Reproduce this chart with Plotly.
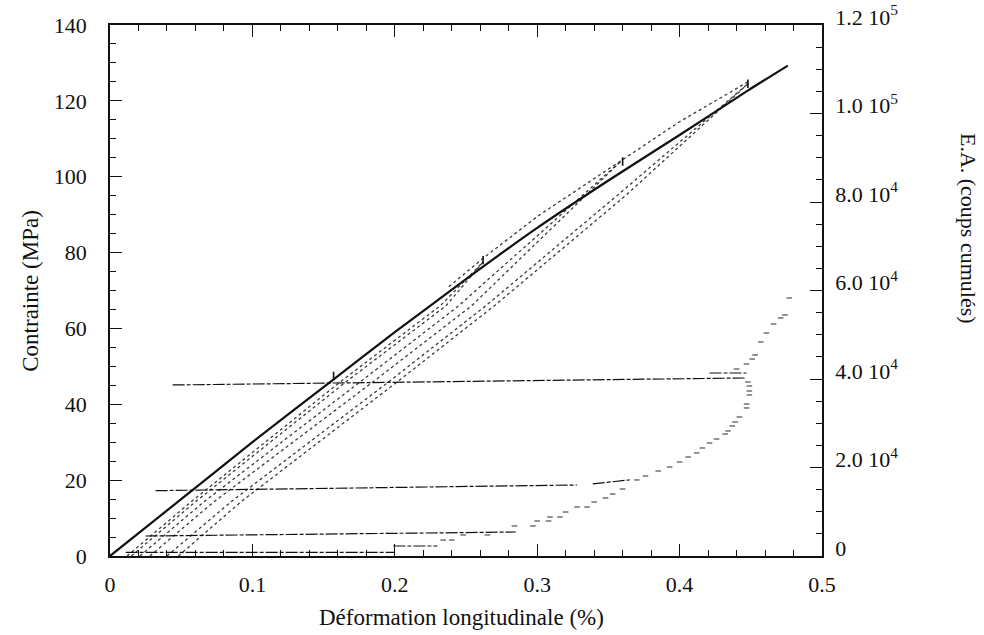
import plotly.graph_objects as go

# ---- stress / strain data (strain in %, stress in MPa) ----
env_strain = [0, 0.05, 0.10, 0.155, 0.20, 0.25, 0.30, 0.35, 0.40, 0.447, 0.476]
env_stress = [0, 15, 30, 46, 59, 73, 86.5, 99, 111, 122.5, 129.3]

# reloading path running just above the monotonic curve
reload_strain = [0.238, 0.262, 0.30, 0.36, 0.40, 0.448]
reload_stress = [71, 78.5, 89.5, 104.5, 114.5, 125]

# peaks of the successive cycles
peak_strain = [0.157, 0.262, 0.360, 0.448]
peak_stress = [47.5, 78.0, 104.0, 124.5]

# unloading / reloading branches of the cycles
loop_stress_a = [0, 14.3, 46, 66, 77.5]
loop_a1_strain = [0.012, 0.057, 0.162, 0.232, 0.262]
loop_a2_strain = [0.015, 0.060, 0.166, 0.236, 0.262]

loop_stress_b = [0, 14.3, 46, 66, 104.5]
loop_b1_strain = [0.021, 0.066, 0.176, 0.245, 0.36]
loop_b2_strain = [0.028, 0.073, 0.185, 0.254, 0.36]

loop_stress_c = [0, 14.3, 46, 66, 95, 124.5]
loop_c1_strain = [0.040, 0.085, 0.196, 0.264, 0.356, 0.448]
loop_c2_strain = [0.048, 0.092, 0.202, 0.270, 0.362, 0.448]

# ---- acoustic emission (cumulated counts) ----
# plateaus recorded while the strain moves back and forth at constant count
ea_plateau_strain = [[0.011, 0.200], [0.199, 0.230], [0.025, 0.285],
                     [0.032, 0.328], [0.339, 0.365], [0.044, 0.447], [0.421, 0.447]]
ea_plateau_counts = [[800, 800], [2260, 2260], [4520, 5420],
                     [14760, 16050], [16300, 17200], [38650, 40230], [41360, 41360]]

ea_strain = [0.234, 0.240, 0.248, 0.265, 0.284, 0.297, 0.300, 0.308, 0.309, 0.316,
             0.320, 0.328, 0.335, 0.340, 0.348, 0.353, 0.360, 0.370, 0.376, 0.385,
             0.393, 0.400, 0.406, 0.412, 0.416, 0.421, 0.426, 0.432, 0.434, 0.437,
             0.439, 0.442, 0.447, 0.447, 0.449, 0.449, 0.449, 0.448,
             0.440, 0.447, 0.451, 0.453, 0.457, 0.461, 0.466, 0.471, 0.474, 0.477]
ea_counts = [3600, 3600, 4750, 4750, 6780, 6780, 7910, 7910, 8810, 8810,
             9940, 11070, 11070, 12200, 13110, 14010, 15140, 17180, 18080, 19210,
             20110, 21240, 22370, 23280, 24410, 25540, 26440, 27570, 28250, 29380,
             30280, 31410, 33450, 34350, 36390, 37290, 38420, 39320,
             42260, 43390, 44520, 45430, 48360, 50400, 52430, 53790, 54470, 58310]

x_tickvals = [0, 0.1, 0.2, 0.3, 0.4, 0.5]
x_ticktext = ["0", "0.1", "0.2", "0.3", "0.4", "0.5"]
y_tickvals = [0, 20, 40, 60, 80, 100, 120, 140]
ea_tickvals = [0, 20000, 40000, 60000, 80000, 100000, 120000]
ea_ticktext = ["0", "2.0 10<sup>4</sup>", "4.0 10<sup>4</sup>", "6.0 10<sup>4</sup>",
               "8.0 10<sup>4</sup>", "1.0 10<sup>5</sup>", "1.2 10<sup>5</sup>"]

FONT = "Liberation Serif"
INK = "#111111"

fig = go.Figure()

dotted = dict(color="#3a3a3a", width=1.3, dash="dot")
for xs, ys in [(loop_a1_strain, loop_stress_a), (loop_a2_strain, loop_stress_a),
               (loop_b1_strain, loop_stress_b), (loop_b2_strain, loop_stress_b),
               (loop_c1_strain, loop_stress_c), (loop_c2_strain, loop_stress_c),
               (reload_strain, reload_stress)]:
    fig.add_trace(go.Scatter(x=xs, y=ys, mode="lines", line=dotted,
                             yaxis="y", showlegend=False, hoverinfo="skip"))

fig.add_trace(go.Scatter(x=env_strain, y=env_stress, mode="lines",
                         line=dict(color=INK, width=2.2, shape="spline", smoothing=0.6),
                         yaxis="y", showlegend=False))

fig.add_trace(go.Scatter(x=peak_strain, y=peak_stress, mode="markers",
                         marker=dict(symbol="line-ns", size=6,
                                     line=dict(color=INK, width=1.6)),
                         yaxis="y", showlegend=False, hoverinfo="skip"))

for xs, ys in zip(ea_plateau_strain, ea_plateau_counts):
    fig.add_trace(go.Scatter(x=xs, y=ys, mode="lines",
                             line=dict(color=INK, width=1.2, dash="12px,2px,4px,2px"),
                             yaxis="y2", showlegend=False, hoverinfo="skip"))

fig.add_trace(go.Scatter(x=ea_strain, y=ea_counts, mode="markers",
                         marker=dict(symbol="line-ew", size=4,
                                     line=dict(color="#2a2a2a", width=1)),
                         yaxis="y2", showlegend=False))

axis_common = dict(showline=True, linecolor=INK, linewidth=1.6, showgrid=False,
                   zeroline=False, ticks="inside", ticklen=12, tickwidth=1.4,
                   tickcolor=INK, automargin=False,
                   tickfont=dict(family=FONT, size=22, color=INK))

fig.update_layout(
    width=984, height=635,
    margin=dict(l=110, r=162, t=25, b=79),
    paper_bgcolor="white", plot_bgcolor="white",
    font=dict(family=FONT, color=INK),
    xaxis=dict(range=[0, 0.5], tickvals=x_tickvals, ticktext=x_ticktext,
               mirror="ticks", ticklabelstandoff=8,
               minor=dict(ticks="inside", ticklen=6, dtick=0.02, tickwidth=1.2,
                          tickcolor=INK),
               **axis_common),
    yaxis=dict(range=[0, 140], tickvals=y_tickvals, mirror=True,
               ticklabelstandoff=17,
               minor=dict(ticks="inside", ticklen=6, dtick=5, tickwidth=1.2,
                          tickcolor=INK),
               **axis_common),
    yaxis2=dict(range=[0, 120000], overlaying="y", side="right",
                tickvals=ea_tickvals, ticktext=ea_ticktext,
                ticklabelstandoff=7, ticklabelshift=-8,
                minor=dict(ticks="inside", ticklen=6, dtick=5000, tickwidth=1.2,
                           tickcolor=INK),
                **axis_common),
    annotations=[
        dict(text="Contrainte (MPa)", xref="paper", yref="paper",
             x=-0.112, y=0.50, xanchor="center", yanchor="middle",
             textangle=-90, showarrow=False,
             font=dict(family=FONT, size=23, color=INK)),
        dict(text="Déformation longitudinale (%)", xref="paper", yref="paper",
             x=0.494, y=-0.115, xanchor="center", yanchor="middle",
             showarrow=False, font=dict(family=FONT, size=23, color=INK)),
        dict(text="E.A. (coups cumulés)", xref="paper", yref="paper",
             x=1.205, y=0.616, xanchor="center", yanchor="middle",
             textangle=90, showarrow=False,
             font=dict(family=FONT, size=22, color=INK)),
    ],
)

fig.write_html("out.html")
